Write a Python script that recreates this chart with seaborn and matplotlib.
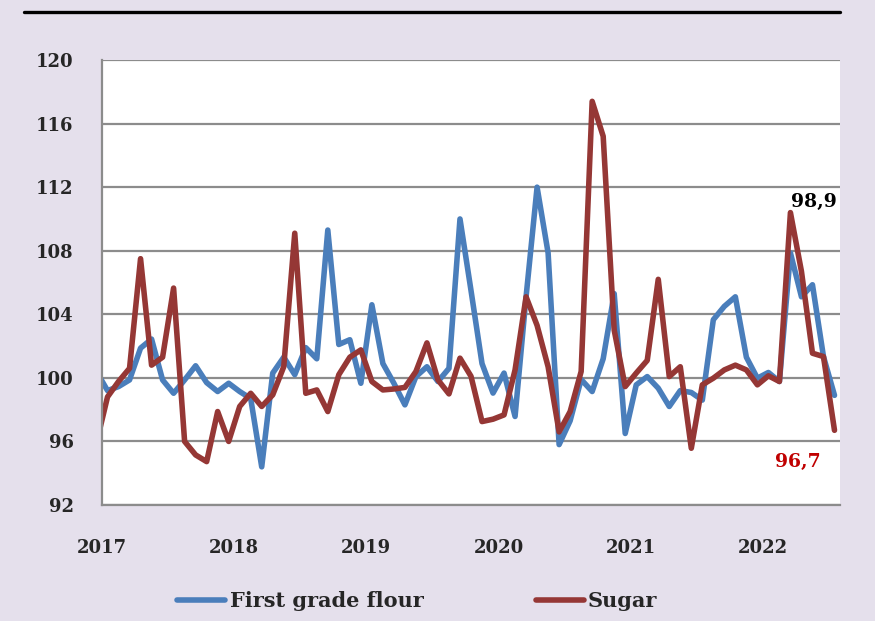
import numpy as np
import pandas as pd
import seaborn as sns
import matplotlib.pyplot as plt
from matplotlib.lines import Line2D

# monthly index, Jan 2017 .. Jul 2022 (Dec 2016 value only shows as the clipped edge segment)
dec16_flour = 100.4
dec16_sugar = 95.9

flour = [99.2, 99.45, 99.87, 101.87, 102.44, 99.87, 99.03, 99.87, 100.76, 99.7, 99.14, 99.66,
         99.14, 98.7, 94.4, 100.3, 101.3, 100.2, 101.9, 101.2, 109.3, 102.1, 102.4, 99.66,
         104.6, 100.9, 99.66, 98.3, 100.08, 100.7, 99.77, 100.6, 110.0, 105.5, 100.9, 99.04,
         100.3, 97.57, 105.1, 112.0, 107.86, 95.8, 97.3, 99.9, 99.14, 101.2, 105.3, 96.5,
         99.56, 100.08, 99.35, 98.2, 99.2, 99.08, 98.6, 103.66, 104.5, 105.1, 101.3, 99.98,
         100.34, 99.77, 107.86, 105.1, 105.86, 101.34, 98.9]

sugar = [98.8, 99.77, 100.6, 107.5, 100.8, 101.3, 105.65, 96.0, 95.15, 94.73, 97.88, 96.0,
         98.2, 99.03, 98.2, 98.93, 100.7, 109.1, 99.03, 99.24, 97.88, 100.2, 101.3, 101.76,
         99.77, 99.24, 99.3, 99.4, 100.4, 102.2, 99.87, 98.99, 101.24, 100.1, 97.25, 97.4,
         97.67, 100.5, 105.1, 103.3, 100.7, 96.6, 97.88, 100.4, 117.4, 115.2, 103.0, 99.45,
         100.3, 101.1, 106.2, 100.08, 100.7, 95.57, 99.56, 99.98, 100.5, 100.8, 100.5, 99.56,
         100.13, 99.77, 110.4, 106.7, 101.55, 101.34, 96.7]

years = ['2017', '2018', '2019', '2020', '2021', '2022']
yticks = [92, 96, 100, 104, 108, 112, 116, 120]
labels = ['First grade flour', 'Sugar']
colors = ['#4A7EBB', '#953735']

bg = '#E5E0EC'
serif = ['DejaVu Serif', 'Liberation Serif']

# long-form table, x = month position centred in each month
n = len(flour)
pos = np.arange(-1, n) + 0.5
df = pd.concat([
    pd.DataFrame({'pos': pos, 'value': [dec16_flour] + flour, 'series': labels[0]}),
    pd.DataFrame({'pos': pos, 'value': [dec16_sugar] + sugar, 'series': labels[1]}),
])

sns.set_style('white')
plt.rcParams['font.family'] = serif
plt.rcParams['font.weight'] = 'bold'

fig = plt.figure(figsize=(8.75, 6.21), dpi=100, facecolor=bg)
ax = fig.add_axes([102/875, 1 - 505/621, (840-102)/875, (505-60)/621])
ax.set_facecolor('white')

sns.lineplot(data=df, x='pos', y='value', hue='series', palette=colors,
             linewidth=4, ax=ax, legend=False, sort=False)

ax.set_xlim(0, n)
ax.set_ylim(92, 120)
ax.set_yticks(yticks)
ax.set_yticklabels([str(t) for t in yticks], fontsize=13, fontweight='bold')
ax.set_xticks(np.arange(len(years)) * 12)
ax.set_xticklabels(years, fontsize=13, fontweight='bold')
ax.set_xlabel('')
ax.set_ylabel('')

ax.yaxis.grid(True, color='#8C8C8C', linewidth=1.6)
ax.set_axisbelow(True)
for side in ['top', 'right']:
    ax.spines[side].set_visible(False)
for side in ['left', 'bottom']:
    ax.spines[side].set_color('#8C8C8C')
    ax.spines[side].set_linewidth(1.6)
ax.tick_params(axis='both', direction='out', length=6.5, width=1.4, color='#8C8C8C')
ax.tick_params(axis='y', pad=14)
ax.tick_params(axis='x', pad=18)

# end-value labels
ax.text(n - 0.3, 110.5, '98,9', color='black', fontsize=13.5, fontweight='bold',
        ha='right', va='bottom')
ax.text(n - 1.8, 95.3, '96,7', color='#C00000', fontsize=13.5, fontweight='bold',
        ha='right', va='top')

# legend
handles = [Line2D([0], [0], color=c, linewidth=4, solid_capstyle='round') for c in colors]
fig.legend(handles, labels, loc='center', bbox_to_anchor=(0.477, 1 - 601/621), ncol=2,
           frameon=False, prop={'family': serif, 'weight': 'bold', 'size': 15},
           handlelength=2.3, handletextpad=0.2, columnspacing=5.4)

# black rule at the top
fig.add_artist(Line2D([24/875, 840/875], [1 - 12/621, 1 - 12/621], color='black', linewidth=2.4))

fig.savefig('out.png', dpi=100, facecolor=bg)
